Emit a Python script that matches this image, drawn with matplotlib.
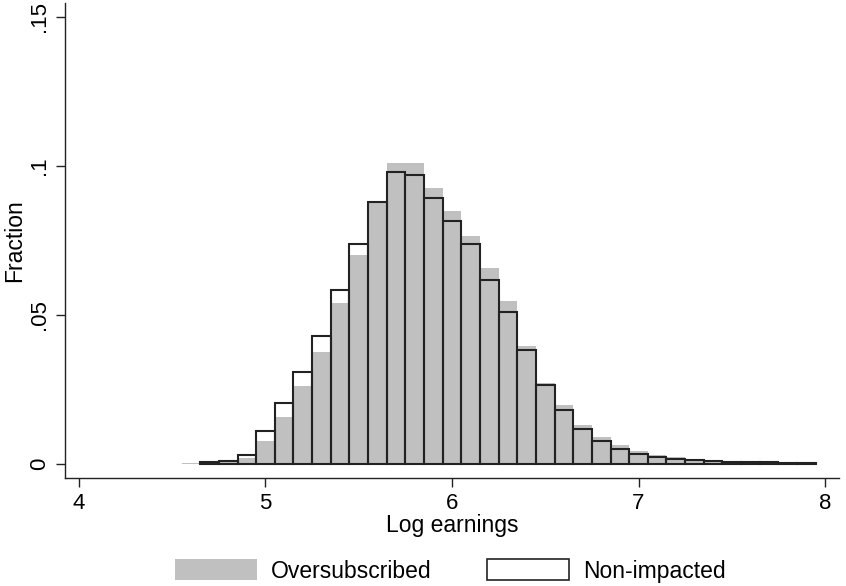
import matplotlib
matplotlib.use("Agg")
import matplotlib.pyplot as plt
import matplotlib.patches as mpatches
import numpy as np

plt.rcParams["font.family"] = ["Liberation Sans", "DejaVu Sans"]

# bin centres, width 0.1
bin_centers = np.round(np.arange(4.6, 7.95, 0.1), 2)

# fraction per bin
oversubscribed = [
    0.0003, 0.0003, 0.0008, 0.0020, 0.0078, 0.0156, 0.0260, 0.0376, 0.0540, 0.0701,
    0.0878, 0.1009, 0.1009, 0.0925, 0.0847, 0.0765, 0.0657, 0.0547, 0.0396, 0.0273,
    0.0197, 0.0131, 0.0090, 0.0064, 0.0044, 0.0031, 0.0022, 0.0017, 0.0013, 0.0011,
    0.0008, 0.0006, 0.0004, 0.0004,
]
non_impacted = [
    0.0000, 0.0005, 0.0011, 0.0029, 0.0109, 0.0204, 0.0307, 0.0428, 0.0583, 0.0739,
    0.0880, 0.0980, 0.0970, 0.0891, 0.0815, 0.0737, 0.0618, 0.0511, 0.0381, 0.0265,
    0.0181, 0.0117, 0.0078, 0.0051, 0.0034, 0.0025, 0.0017, 0.0012, 0.0009, 0.0008,
    0.0006, 0.0005, 0.0004, 0.0003,
]

x_ticks = [4, 5, 6, 7, 8]
y_ticks = [0, 0.05, 0.1, 0.15]
y_tick_labels = ["0", ".05", ".1", ".15"]

GRAY = "#c0c0c0"
DARK = "#222222"

fig = plt.figure(figsize=(8.46, 5.86), dpi=100)
ax = fig.add_axes([65 / 846, 1 - 478 / 586, (839 - 65) / 846, (478 - 3) / 586])

ax.bar(bin_centers, oversubscribed, width=0.1, color=GRAY, linewidth=0, zorder=2)
ni = np.array(non_impacted)
mask = ni > 0
ax.bar(bin_centers[mask], ni[mask], width=0.1, facecolor="none", edgecolor=DARK,
       linewidth=1.5, zorder=3)

ax.set_xlim(3.925, 8.075)
ax.set_ylim(-0.0047, 0.1546)

ax.set_xticks(x_ticks)
ax.set_yticks(y_ticks)
ax.set_yticklabels(y_tick_labels, rotation=90, va="center")

for side in ("top", "right"):
    ax.spines[side].set_visible(False)
for side in ("left", "bottom"):
    ax.spines[side].set_color(DARK)
    ax.spines[side].set_linewidth(1.0)

ax.tick_params(axis="both", direction="out", length=6.5, width=1.0, color=DARK,
               labelsize=16, pad=4)

ax.set_xlabel("Log earnings", fontsize=16.5, labelpad=0)
ax.set_ylabel("Fraction", fontsize=16.5, va="center")
# centre of the label sits ~15 px from the left edge
ax.yaxis.set_label_coords(-50 / 774, 0.5)

handles = [
    mpatches.Patch(facecolor=GRAY, edgecolor="none", label="Oversubscribed"),
    mpatches.Patch(facecolor="white", edgecolor=DARK, linewidth=1.2, label="Non-impacted"),
]
fig.legend(handles=handles, loc="center", bbox_to_anchor=(450 / 846, 1 - 571 / 586),
           ncol=2, frameon=False, fontsize=16.5, handlelength=3.6, handleheight=1.0,
           handletextpad=0.6, columnspacing=2.4)

fig.savefig("out.png", dpi=100)
